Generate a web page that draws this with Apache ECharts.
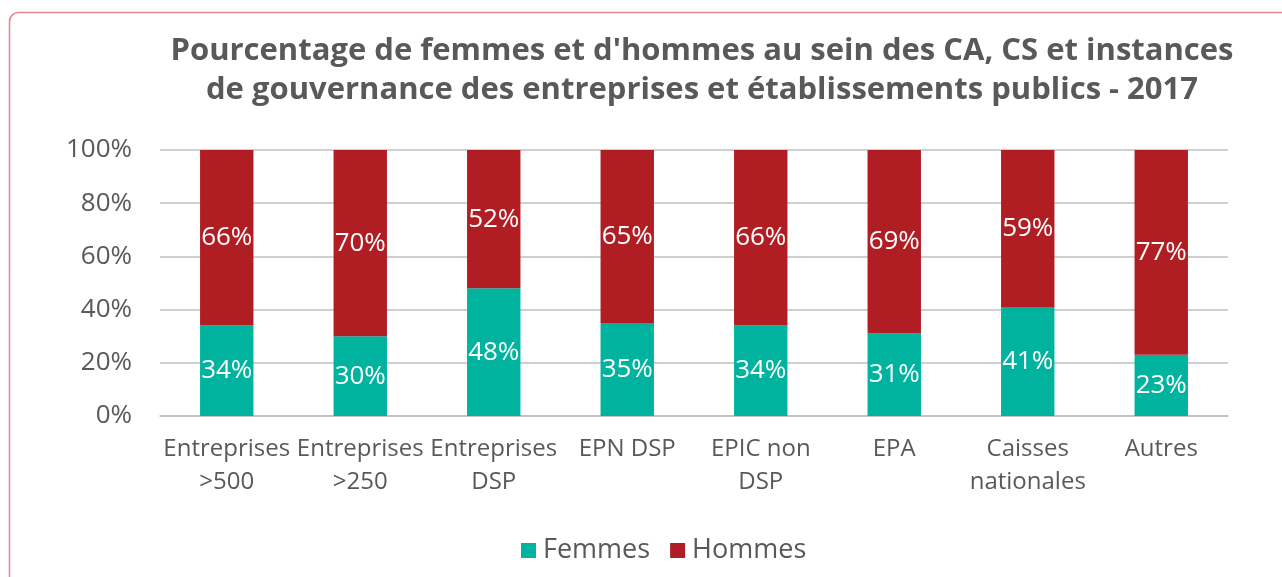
<!DOCTYPE html>
<html>
<head>
<meta charset="utf-8">
<script src="https://cdn.jsdelivr.net/npm/echarts@6/dist/echarts.min.js"></script>
<style>
    html, body { margin: 0; padding: 0; background: #ffffff; }
    #chart { width: 1282px; height: 577px; }
</style>
</head>
<body>
<div id="chart"></div>
<script>
var categories = ['Entreprises\n>500', 'Entreprises\n>250', 'Entreprises\nDSP', 'EPN DSP',
    'EPIC non\nDSP', 'EPA', 'Caisses\nnationales', 'Autres'];
var femmes = [34, 30, 48, 35, 34, 31, 41, 23];
var hommes = [66, 70, 52, 65, 66, 69, 59, 77];
var yTicks = [0, 20, 40, 60, 80, 100];

var textColor = '#595959';
var fontFam = '"Open Sans", "Noto Sans", sans-serif';

var chart = echarts.init(document.getElementById('chart'));
var option = {
    backgroundColor: '#ffffff',
    animation: false,
    graphic: [{
        type: 'rect',
        shape: {x: 9.5, y: 12.5, width: 1400, height: 700, r: 9},
        style: {fill: 'none', stroke: '#e0878d', lineWidth: 1.5},
        silent: true
    }],
    title: {
        text: "Pourcentage de femmes et d'hommes au sein des CA, CS et instances\nde gouvernance des entreprises et établissements publics - 2017",
        left: 697,
        textAlign: 'center',
        top: 27,
        textStyle: {
            color: textColor,
            fontFamily: fontFam,
            fontWeight: 'bold',
            fontSize: 31,
            lineHeight: 39
        }
    },
    legend: {
        bottom: 8,
        left: 516,
        itemWidth: 15,
        itemHeight: 15,
        itemGap: 20,
        icon: 'rect',
        textStyle: {color: textColor, fontFamily: fontFam, fontSize: 27, padding: [0, 0, 0, 2]},
        data: ['Femmes', 'Hommes']
    },
    grid: {left: 160, right: 54, top: 150, bottom: 161},
    xAxis: {
        type: 'category',
        data: categories,
        axisLine: {lineStyle: {color: '#bfbfbf', width: 1.5}},
        axisTick: {show: false},
        axisLabel: {
            color: textColor,
            fontFamily: fontFam,
            fontSize: 24,
            lineHeight: 33,
            margin: 17,
            interval: 0
        }
    },
    yAxis: {
        type: 'value',
        min: 0,
        max: 100,
        interval: 20,
        axisLine: {show: false},
        axisTick: {show: false},
        splitLine: {lineStyle: {color: '#bfbfbf', width: 1.5}},
        axisLabel: {
            color: textColor,
            fontFamily: fontFam,
            fontSize: 26,
            margin: 28,
            formatter: function (v) { return yTicks.indexOf(v) >= 0 ? v + '%' : ''; }
        }
    },
    series: [{
        name: 'Femmes',
        type: 'bar',
        stack: 'total',
        barWidth: '40%',
        data: femmes,
        itemStyle: {color: '#00b39f'},
        label: {
            show: true, position: 'inside', color: '#ffffff',
            fontFamily: fontFam, fontSize: 26,
            formatter: '{c}%'
        }
    }, {
        name: 'Hommes',
        type: 'bar',
        stack: 'total',
        barWidth: '40%',
        data: hommes,
        itemStyle: {color: '#b01e24'},
        label: {
            show: true, position: 'inside', color: '#ffffff',
            fontFamily: fontFam, fontSize: 26,
            formatter: '{c}%'
        }
    }]
};
chart.setOption(option);
</script>
</body>
</html>
